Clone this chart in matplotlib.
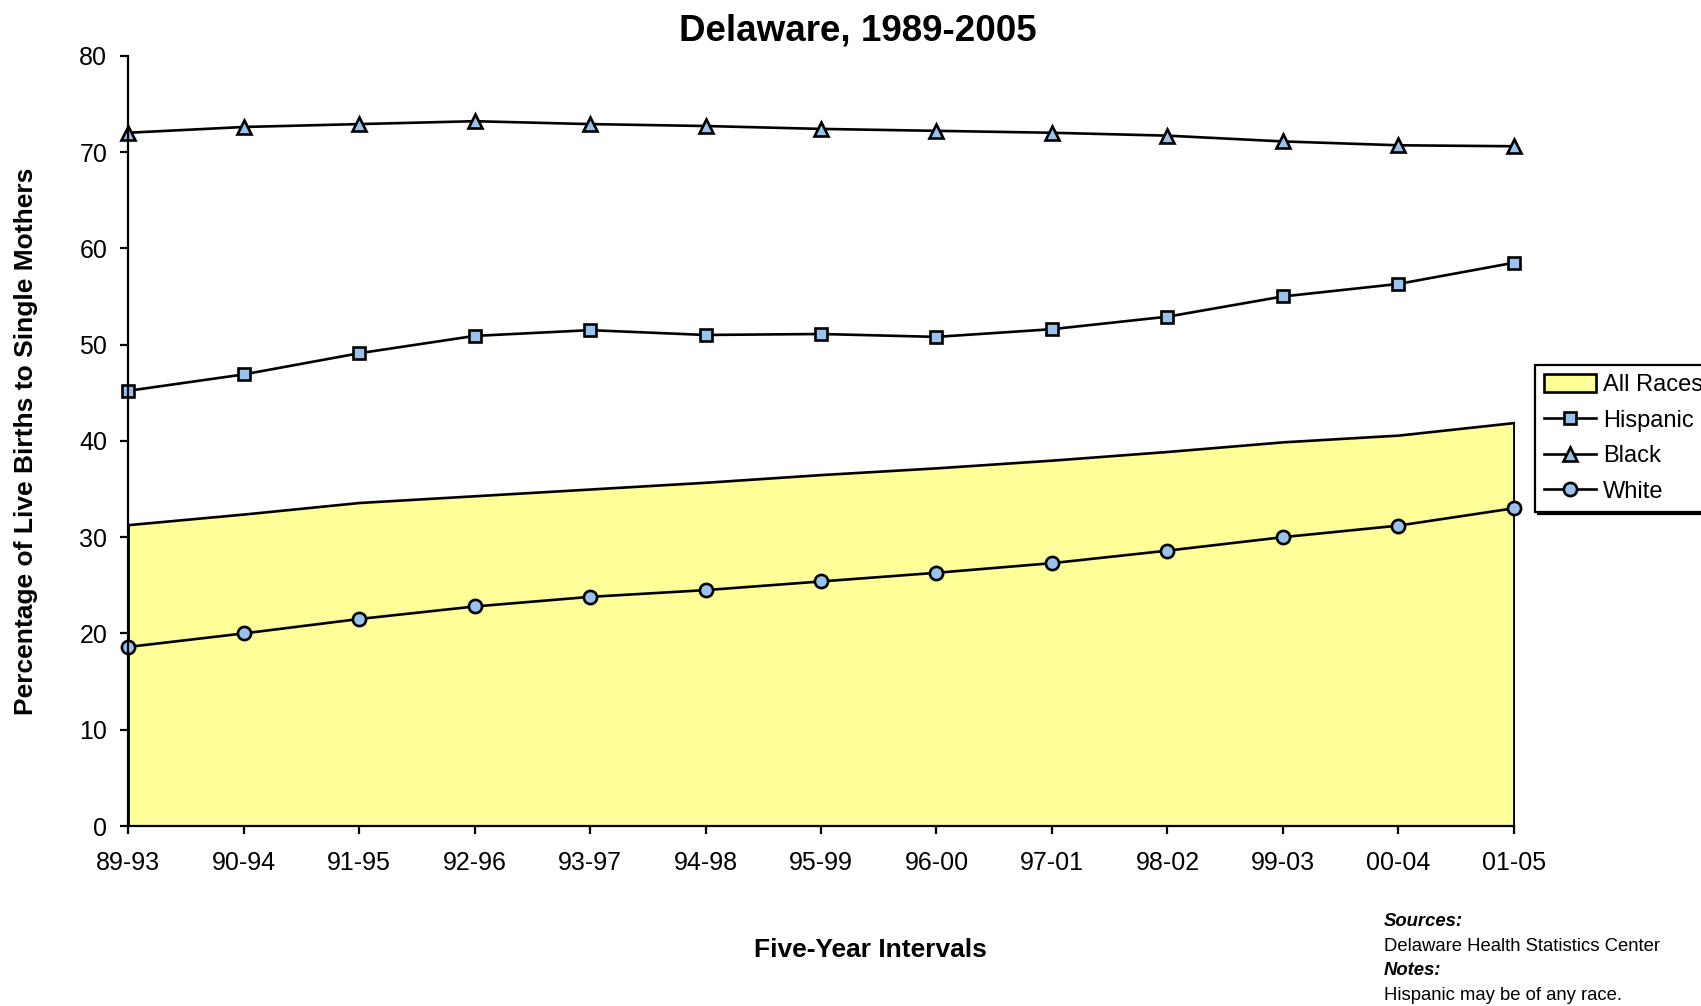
import matplotlib
matplotlib.use("Agg")
import matplotlib.pyplot as plt

plt.rcParams["font.family"] = ["Liberation Sans", "DejaVu Sans"]

intervals = ["89-93", "90-94", "91-95", "92-96", "93-97", "94-98", "95-99",
             "96-00", "97-01", "98-02", "99-03", "00-04", "01-05"]
all_races = [31.3, 32.4, 33.6, 34.3, 35.0, 35.7, 36.5, 37.2, 38.0, 38.9, 39.9, 40.6, 41.9]
hispanic = [45.2, 46.9, 49.1, 50.9, 51.5, 51.0, 51.1, 50.8, 51.6, 52.9, 55.0, 56.3, 58.5]
black = [72.0, 72.6, 72.9, 73.2, 72.9, 72.7, 72.4, 72.2, 72.0, 71.7, 71.1, 70.7, 70.6]
white = [18.6, 20.0, 21.5, 22.8, 23.8, 24.5, 25.4, 26.3, 27.3, 28.6, 30.0, 31.2, 33.0]

FILL = "#FFFF99"
MARKER_FACE = "#99C2EE"

fig = plt.figure(figsize=(17.01, 10.06), dpi=100)
ax = fig.add_axes([0.0753, 0.1789, 0.8147, 0.7657])

x = list(range(len(intervals)))
ax.fill_between(x, all_races, color=FILL, edgecolor="black", linewidth=1.9,
                label="All Races", zorder=2)

line_kw = dict(color="black", linewidth=1.9, markeredgewidth=1.9,
               markerfacecolor=MARKER_FACE, markeredgecolor="black", clip_on=False, zorder=4)
ax.plot(x, hispanic, marker="s", markersize=9, label="Hispanic", **line_kw)
ax.plot(x, black, marker="^", markersize=10.5, label="Black", **line_kw)
ax.plot(x, white, marker="o", markersize=9.5, label="White", **line_kw)

ax.set_xlim(0, len(intervals) - 1)
ax.set_ylim(0, 80)
ax.set_xticks(x)
ax.set_xticklabels(intervals)
ax.set_yticks(range(0, 81, 10))

for side in ("top", "right"):
    ax.spines[side].set_visible(False)
for side in ("left", "bottom"):
    ax.spines[side].set_linewidth(1.6)
    ax.spines[side].set_zorder(5)

ax.tick_params(axis="x", direction="out", length=6, width=1.6, pad=12, labelsize=18)
ax.tick_params(axis="y", direction="out", length=6, width=1.6, pad=9, labelsize=18)

ax.set_ylabel("Percentage of Live Births to Single Mothers", fontsize=19,
              fontweight="bold", labelpad=30)

fig.text(857.5 / 1701, 1 - 31 / 1006, "Delaware, 1989-2005", fontsize=26.5,
         fontweight="bold", ha="center", va="center")
fig.text(870 / 1701, 1 - 950 / 1006, "Five-Year Intervals", fontsize=19,
         fontweight="bold", ha="center", va="center")

notes = [("Sources:", True), ("Delaware Health Statistics Center", False),
         ("Notes:", True), ("Hispanic may be of any race.", False)]
for i, (txt, head) in enumerate(notes):
    fig.text(1384 / 1701, 1 - (922 + 24.4 * i) / 1006, txt, fontsize=13.3,
             fontweight="bold" if head else "normal",
             fontstyle="italic" if head else "normal", ha="left", va="center")

leg = ax.legend(loc="upper left", bbox_to_anchor=(1535 / 1701, 1 - 365 / 1006),
                bbox_transform=fig.transFigure, fontsize=17, frameon=True,
                fancybox=False, borderaxespad=0, borderpad=0.38,
                handlelength=2.2, handletextpad=0.3, labelspacing=0.56,
                handleheight=0.8, shadow={"color": "black", "alpha": 1.0})
leg.get_frame().set_edgecolor("black")
leg.get_frame().set_linewidth(1.6)

fig.savefig("out.png", dpi=100)
